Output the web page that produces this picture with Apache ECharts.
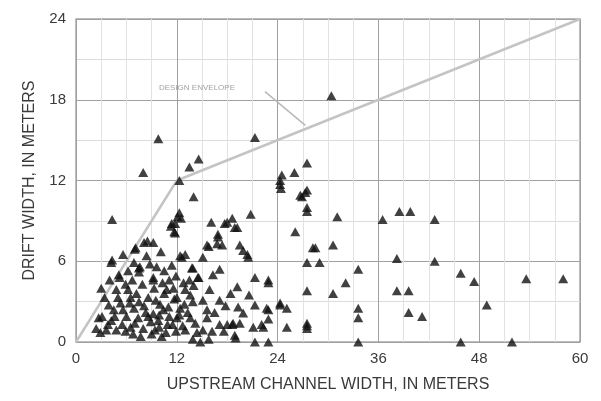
<!DOCTYPE html>
<html>
<head>
<meta charset="utf-8">
<script src="https://cdn.jsdelivr.net/npm/echarts@6/dist/echarts.min.js"></script>
<style>
  html, body { margin: 0; padding: 0; background: #fff; }
  #chart { width: 601px; height: 401px; }
</style>
</head>
<body>
<div id="chart"></div>
<script>
// Axis ticks
const xTicks = [0, 12, 24, 36, 48, 60];
const yTicks = [0, 6, 12, 18, 24];

// Design envelope vertices (upstream width, drift width)
const envelope = [[0, 0], [12, 12], [60, 24]];
const envelopeLabel = 'DESIGN ENVELOPE';
const envelopeLabelAt = [14.4, 18.9];
const leader = [[22.5, 18.6], [27.3, 16.1]];

// Observed drift widths (x: upstream channel width, y: drift width), meters
const upperPoints = [
  [30.4,18.3],[9.8,15.1],[21.3,15.2],[14.6,13.6],[13.5,13.0],[12.3,12.0],[8.0,12.6],
  [14.0,10.8],[12.3,9.6],[12.5,9.2],[11.3,8.6],[11.7,8.2],[11.8,8.8],[16.1,8.9],[4.3,9.1],
  [27.5,13.3],[26.0,12.6],[24.3,12.0],[24.5,12.4],[24.4,11.4],[24.3,11.7],[27.5,11.3],
  [27.3,11.1],[26.9,10.8],[26.7,10.9],[27.5,10.0],[27.5,9.7],[31.1,9.3],[20.8,9.5],
  [18.0,8.9],[18.6,9.2],[18.9,8.5],[17.7,8.8],[19.2,8.5],[26.1,8.2],[12.1,9.3],[11.4,8.8],[11.8,8.1]
];
const rightPoints = [
  [30.6,7.2],[36.5,9.1],[38.5,9.7],[39.8,9.7],[42.7,9.1],[38.2,6.2],[42.7,6.0],[33.6,5.4],
  [45.8,5.1],[47.4,4.5],[53.6,4.7],[58.0,4.7],[32.1,4.4],[30.6,3.6],[38.2,3.8],[39.6,3.8],
  [48.9,2.75],[33.6,2.5],[33.6,1.8],[39.6,2.2],[41.2,1.9],[33.6,0],[45.8,0],[51.9,0]
];
const middlePoints = [
  [28.2,7.0],[28.5,7.0],[27.5,5.9],[29.0,5.9],[22.9,4.4],[22.9,4.6],[27.5,3.8],[24.3,2.75],
  [25.1,2.5],[22.9,2.4],[22.9,1.7],[25.1,1.1],[27.5,1.4],[27.5,1.0],[27.5,1.2],[22.1,1.3],
  [22.9,0],[21.3,0],[14.8,0],
  [16.9,8.0],[15.6,7.2],[16.8,7.3],[17.4,7.2],[19.5,7.2],[20.4,6.5],[13.0,6.5],[12.6,6.3],
  [15.1,6.3],[13.8,5.5],[17.1,5.4],[14.5,4.8],[21.3,4.8],[19.2,4.1],[17.1,3.1],[13.0,3.9],
  [12.0,3.3],[13.6,3.5],[13.9,3.0],[15.1,3.1],[12.4,2.5],[15.6,2.4],[19.3,2.6],[21.3,2.75],
  [19.9,2.15],[12.0,1.8],[13.6,1.8],[15.6,1.8],[17.1,1.3],[18.6,1.3],[19.5,1.4],[21.1,1.1],
  [22.3,1.1],[13.0,0.9],[14.4,0.7],[15.1,0.9],[18.9,0.5],
  [19.9,6.8],[20.5,6.3],[16.9,7.8],[15.8,7.1],[18.0,1.3],[18.7,1.4],[22.7,2.5],[24.3,2.9]
];
const clusterPoints = [
  [8.1,7.4],[9.2,7.4],[7.0,6.9],[5.6,6.5],[10.1,6.7],[4.2,5.9],[6.2,5.3],[7.5,5.5],[7.5,5.2],
  [5.1,5.0],[3.0,4.0],[4.8,3.9],[6.2,3.9],[9.2,4.6],[11.1,4.6],[9.3,4.0],[5.0,3.3],[6.5,3.3],
  [7.5,3.0],[3.9,2.75],[5.6,2.4],[6.9,2.5],[8.6,3.3],[9.5,3.1],[10.5,3.6],[2.7,1.8],[4.2,1.6],
  [6.0,1.9],[7.4,1.8],[9.2,2.1],[10.4,2.4],[11.1,1.9],[2.4,1.0],[3.6,0.9],[4.8,0.9],[6.5,1.1],
  [8.0,1.0],[8.9,1.5],[9.9,1.1],[10.7,0.7],[11.5,1.3],[11.0,2.6],[9.8,1.6],
  [5.2,4.8],[7.6,5.6],[9.2,4.8],[2.9,0.7],[3.1,1.9],[7.1,7.0],[8.5,7.5],[4.3,6.1],[12.4,6.4],
  [13.9,5.5],[14.6,4.8],
  [8.3,2.2],[10.0,2.8],[10.8,3.9],[11.7,3.2],[9.0,0.6],[10.2,0.4],[11.9,0.8],[12.7,1.2],
  [13.3,2.2],[14.2,1.4],[16.2,0.8],[16.5,2.2],[17.8,2.7],[18.4,3.6],[6.8,0.6],[5.5,1.3],
  [4.5,2.4],[3.4,3.3],[7.9,4.3],[8.8,5.8],[6.7,4.6],[10.5,5.3],[11.6,4.0],[12.8,4.4],
  [14.0,4.2],[15.9,3.9],[16.3,5.0],[20.6,3.5],[19.0,0.3],[17.6,0.8],[15.8,0.2],[13.9,0.2],
  [5.9,4.3],[6.9,5.9],[8.4,6.4],[9.6,5.6],[4.0,4.6],[5.3,2.9],[7.2,3.6],[8.1,2.7],[9.9,2.0],
  [10.9,1.3],[12.3,2.0],[12.9,2.8],[3.8,1.3],[5.9,0.8],[7.7,0.4],[8.6,1.9],[10.3,4.4],[11.4,5.7],
  [6.4,2.9],[4.6,1.9],[7.0,1.4],[9.4,0.9],[11.9,4.9],[13.5,4.6]
];

const observations = [].concat(upperPoints, rightPoints, middlePoints, clusterPoints);

const textColor = '#3a3a3a';
const font = 'Liberation Sans, Arial, sans-serif';

const chart = echarts.init(document.getElementById('chart'));
chart.setOption({
  animation: false,
  backgroundColor: '#fff',
  grid: {
    left: 76, right: 21, top: 19, bottom: 59,
    show: true, borderColor: '#a8a8a8', borderWidth: 1.5, backgroundColor: 'transparent'
  },
  xAxis: {
    type: 'value',
    min: xTicks[0], max: xTicks[xTicks.length - 1], interval: 12,
    name: 'UPSTREAM CHANNEL WIDTH, IN METERS',
    nameLocation: 'middle', nameGap: 35,
    nameTextStyle: { color: textColor, fontSize: 16, fontFamily: font },
    axisLine: { show: false },
    axisTick: { show: false },
    axisLabel: { color: textColor, fontSize: 15, fontFamily: font, margin: 9 },
    splitLine: { show: true, lineStyle: { color: '#a0a0a0', width: 1 } },
    minorTick: { show: false, splitNumber: 4 },
    minorSplitLine: { show: true, lineStyle: { color: '#e2e2e2', width: 1 } }
  },
  yAxis: {
    type: 'value',
    min: yTicks[0], max: yTicks[yTicks.length - 1], interval: 6,
    name: 'DRIFT WIDTH, IN METERS',
    nameLocation: 'middle', nameGap: 38, nameRotate: 90,
    nameTextStyle: { color: textColor, fontSize: 16, fontFamily: font },
    axisLine: { show: false },
    axisTick: { show: false },
    axisLabel: { color: textColor, fontSize: 15, fontFamily: font, margin: 10 },
    splitLine: { show: true, lineStyle: { color: '#a0a0a0', width: 1 } },
    minorTick: { show: false, splitNumber: 2 },
    minorSplitLine: { show: true, lineStyle: { color: '#dcdcdc', width: 1 } }
  },
  series: [
    {
      type: 'line',
      data: envelope,
      symbol: 'none',
      lineStyle: { color: '#c4c4c4', width: 2.5 },
      z: 3
    },
    {
      type: 'line',
      data: leader,
      symbol: 'none',
      lineStyle: { color: '#b8b8b8', width: 1.5 },
      z: 3
    },
    {
      type: 'scatter',
      data: [envelopeLabelAt],
      symbolSize: 0,
      label: {
        show: true, position: 'inside',
        formatter: envelopeLabel,
        color: '#8a8a8a', fontSize: 8, fontFamily: font
      },
      z: 3
    },
    {
      type: 'scatter',
      data: observations,
      symbol: 'triangle',
      symbolSize: [10, 9],
      itemStyle: { color: '#111' },
      z: 5
    }
  ]
});
</script>
</body>
</html>
